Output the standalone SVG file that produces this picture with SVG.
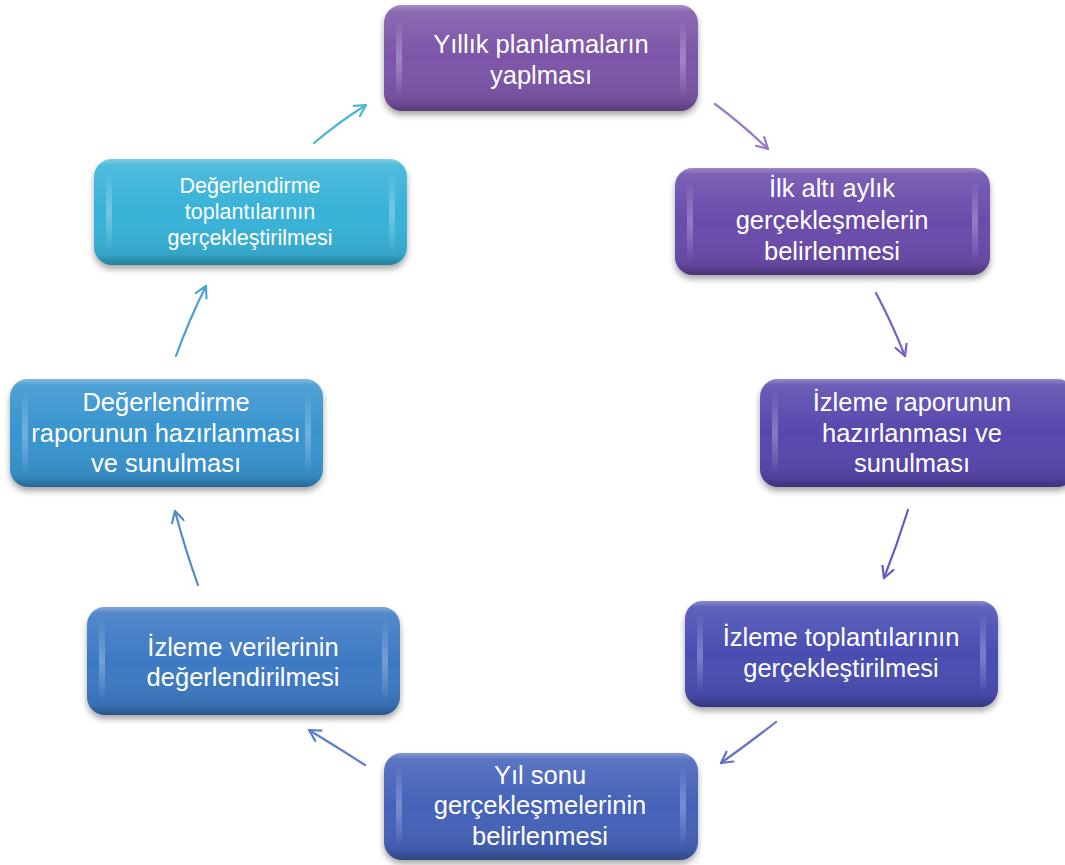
<svg xmlns="http://www.w3.org/2000/svg" width="1065" height="865" viewBox="0 0 1065 865">
<defs>
<style>
.box{stroke:none;filter:url(#sh)}
.gl{fill:url(#gloss)}
.side{fill:url(#sg);opacity:0.35}
.t{font-family:"Liberation Sans","Noto Sans",sans-serif;font-size:25.5px;fill:#ffffff;text-anchor:middle}
.ts{font-family:"Liberation Sans","Noto Sans",sans-serif;font-size:21.5px;fill:#ffffff;text-anchor:middle}
.c{fill:none;stroke-width:2.2;stroke-linecap:round}
</style>
<filter id="sh" x="-10%" y="-10%" width="120%" height="130%">
<feDropShadow dx="0" dy="4" stdDeviation="3" flood-color="#000" flood-opacity="0.35"/>
</filter>
<linearGradient id="gloss" x1="0" y1="0" x2="0" y2="1">
<stop offset="0" stop-color="#fff" stop-opacity="0.35"/>
<stop offset="0.06" stop-color="#fff" stop-opacity="0.12"/>
<stop offset="0.5" stop-color="#fff" stop-opacity="0"/>
<stop offset="0.9" stop-color="#000" stop-opacity="0.08"/>
<stop offset="1" stop-color="#000" stop-opacity="0.3"/>
</linearGradient>
<linearGradient id="sg" x1="0" y1="0" x2="0" y2="1">
<stop offset="0" stop-color="#fff" stop-opacity="0"/>
<stop offset="0.5" stop-color="#fff" stop-opacity="0.8"/>
<stop offset="1" stop-color="#fff" stop-opacity="0"/>
</linearGradient>
<marker id="m1" viewBox="0 0 14 14" refX="12" refY="7" markerWidth="14" markerHeight="14" markerUnits="userSpaceOnUse" orient="auto"><path d="M1,1 L12,7 L1,13" fill="none" stroke="#4bb5d7" stroke-width="2.2" stroke-linecap="round" stroke-linejoin="round"/></marker>
<marker id="m2" viewBox="0 0 14 14" refX="12" refY="7" markerWidth="14" markerHeight="14" markerUnits="userSpaceOnUse" orient="auto"><path d="M1,1 L12,7 L1,13" fill="none" stroke="#967bc8" stroke-width="2.2" stroke-linecap="round" stroke-linejoin="round"/></marker>
<marker id="m3" viewBox="0 0 14 14" refX="12" refY="7" markerWidth="14" markerHeight="14" markerUnits="userSpaceOnUse" orient="auto"><path d="M1,1 L12,7 L1,13" fill="none" stroke="#7b5fc0" stroke-width="2.2" stroke-linecap="round" stroke-linejoin="round"/></marker>
<marker id="m4" viewBox="0 0 14 14" refX="12" refY="7" markerWidth="14" markerHeight="14" markerUnits="userSpaceOnUse" orient="auto"><path d="M1,1 L12,7 L1,13" fill="none" stroke="#6a58c2" stroke-width="2.2" stroke-linecap="round" stroke-linejoin="round"/></marker>
<marker id="m5" viewBox="0 0 14 14" refX="12" refY="7" markerWidth="14" markerHeight="14" markerUnits="userSpaceOnUse" orient="auto"><path d="M1,1 L12,7 L1,13" fill="none" stroke="#6670c8" stroke-width="2.2" stroke-linecap="round" stroke-linejoin="round"/></marker>
<marker id="m6" viewBox="0 0 14 14" refX="12" refY="7" markerWidth="14" markerHeight="14" markerUnits="userSpaceOnUse" orient="auto"><path d="M1,1 L12,7 L1,13" fill="none" stroke="#5a7ed0" stroke-width="2.2" stroke-linecap="round" stroke-linejoin="round"/></marker>
<marker id="m7" viewBox="0 0 14 14" refX="12" refY="7" markerWidth="14" markerHeight="14" markerUnits="userSpaceOnUse" orient="auto"><path d="M1,1 L12,7 L1,13" fill="none" stroke="#4f8cc9" stroke-width="2.2" stroke-linecap="round" stroke-linejoin="round"/></marker>
<marker id="m8" viewBox="0 0 14 14" refX="12" refY="7" markerWidth="14" markerHeight="14" markerUnits="userSpaceOnUse" orient="auto"><path d="M1,1 L12,7 L1,13" fill="none" stroke="#4aa0d5" stroke-width="2.2" stroke-linecap="round" stroke-linejoin="round"/></marker>
</defs>
<rect width="1065" height="865" fill="#ffffff"/>

<g id="connectors">
<path class="c" stroke="#4bb5d7" marker-end="url(#m1)" d="M314,143 Q339,122 366,105"/>
<path class="c" stroke="#967bc8" marker-end="url(#m2)" d="M715,104 Q742,124 768,149"/>
<path class="c" stroke="#7b5fc0" marker-end="url(#m3)" d="M876,293 Q892,323 905,356"/>
<path class="c" stroke="#6a58c2" marker-end="url(#m4)" d="M908,510 Q897,545 884,578"/>
<path class="c" stroke="#6670c8" marker-end="url(#m5)" d="M776,722 Q749,743 721,763"/>
<path class="c" stroke="#5a7ed0" marker-end="url(#m6)" d="M365,765 Q337,747 309,730"/>
<path class="c" stroke="#4f8cc9" marker-end="url(#m7)" d="M198,585 Q185,549 175,511"/>
<path class="c" stroke="#4aa0d5" marker-end="url(#m8)" d="M176,356 Q189,320 206,286"/>
</g>

<g id="node1">
<rect class="box" x="384" y="5" width="314" height="106" rx="18" fill="#7c55a8"/>
<rect class="gl" x="384" y="5" width="314" height="106" rx="18"/>
<rect class="side" x="396" y="18" width="6" height="80" rx="3"/><rect class="side" x="680" y="18" width="6" height="80" rx="3"/>
<text class="t" x="541" y="53">Yıllık planlamaların</text>
<text class="t" x="541" y="84">yaplması</text>
</g>

<g id="node2">
<rect class="box" x="675" y="168" width="315" height="107" rx="18" fill="#6a4bab"/>
<rect class="gl" x="675" y="168" width="315" height="107" rx="18"/>
<rect class="side" x="687" y="181" width="6" height="81" rx="3"/><rect class="side" x="972" y="181" width="6" height="81" rx="3"/>
<text class="t" x="832" y="197">İlk altı aylık</text>
<text class="t" x="832" y="229">gerçekleşmelerin</text>
<text class="t" x="832" y="260">belirlenmesi</text>
</g>

<g id="node3">
<rect class="box" x="760" y="379" width="315" height="108" rx="18" fill="#5947ad"/>
<rect class="gl" x="760" y="379" width="315" height="108" rx="18"/>
<rect class="side" x="772" y="392" width="6" height="82" rx="3"/>
<text class="t" x="912" y="411">İzleme raporunun</text>
<text class="t" x="912" y="442">hazırlanması ve</text>
<text class="t" x="912" y="472">sunulması</text>
</g>

<g id="node4">
<rect class="box" x="685" y="601" width="313" height="106" rx="18" fill="#4a4db1"/>
<rect class="gl" x="685" y="601" width="313" height="106" rx="18"/>
<rect class="side" x="697" y="614" width="6" height="80" rx="3"/><rect class="side" x="980" y="614" width="6" height="80" rx="3"/>
<text class="t" x="841" y="646">İzleme toplantılarının</text>
<text class="t" x="841" y="677">gerçekleştirilmesi</text>
</g>

<g id="node5">
<rect class="box" x="384" y="753" width="314" height="107" rx="18" fill="#4562b9"/>
<rect class="gl" x="384" y="753" width="314" height="107" rx="18"/>
<rect class="side" x="396" y="766" width="6" height="81" rx="3"/><rect class="side" x="680" y="766" width="6" height="81" rx="3"/>
<text class="t" x="540" y="784">Yıl sonu</text>
<text class="t" x="540" y="814">gerçekleşmelerinin</text>
<text class="t" x="540" y="845">belirlenmesi</text>
</g>

<g id="node6">
<rect class="box" x="87" y="607" width="313" height="108" rx="18" fill="#3e79c3"/>
<rect class="gl" x="87" y="607" width="313" height="108" rx="18"/>
<rect class="side" x="99" y="620" width="6" height="82" rx="3"/><rect class="side" x="382" y="620" width="6" height="82" rx="3"/>
<text class="t" x="243" y="656">İzleme verilerinin</text>
<text class="t" x="243" y="686">değerlendirilmesi</text>
</g>

<g id="node7">
<rect class="box" x="10" y="379" width="313" height="108" rx="18" fill="#3994cf"/>
<rect class="gl" x="10" y="379" width="313" height="108" rx="18"/>
<rect class="side" x="22" y="392" width="6" height="82" rx="3"/><rect class="side" x="305" y="392" width="6" height="82" rx="3"/>
<text class="t" x="166" y="411">Değerlendirme</text>
<text class="t" x="166" y="442">raporunun hazırlanması</text>
<text class="t" x="166" y="472">ve sunulması</text>
</g>

<g id="node8">
<rect class="box" x="94" y="159" width="313" height="106" rx="18" fill="#37b2d8"/>
<rect class="gl" x="94" y="159" width="313" height="106" rx="18"/>
<rect class="side" x="106" y="172" width="6" height="80" rx="3"/><rect class="side" x="389" y="172" width="6" height="80" rx="3"/>
<text class="ts" x="250" y="193">Değerlendirme</text>
<text class="ts" x="250" y="219">toplantılarının</text>
<text class="ts" x="250" y="245">gerçekleştirilmesi</text>
</g>
</svg>
